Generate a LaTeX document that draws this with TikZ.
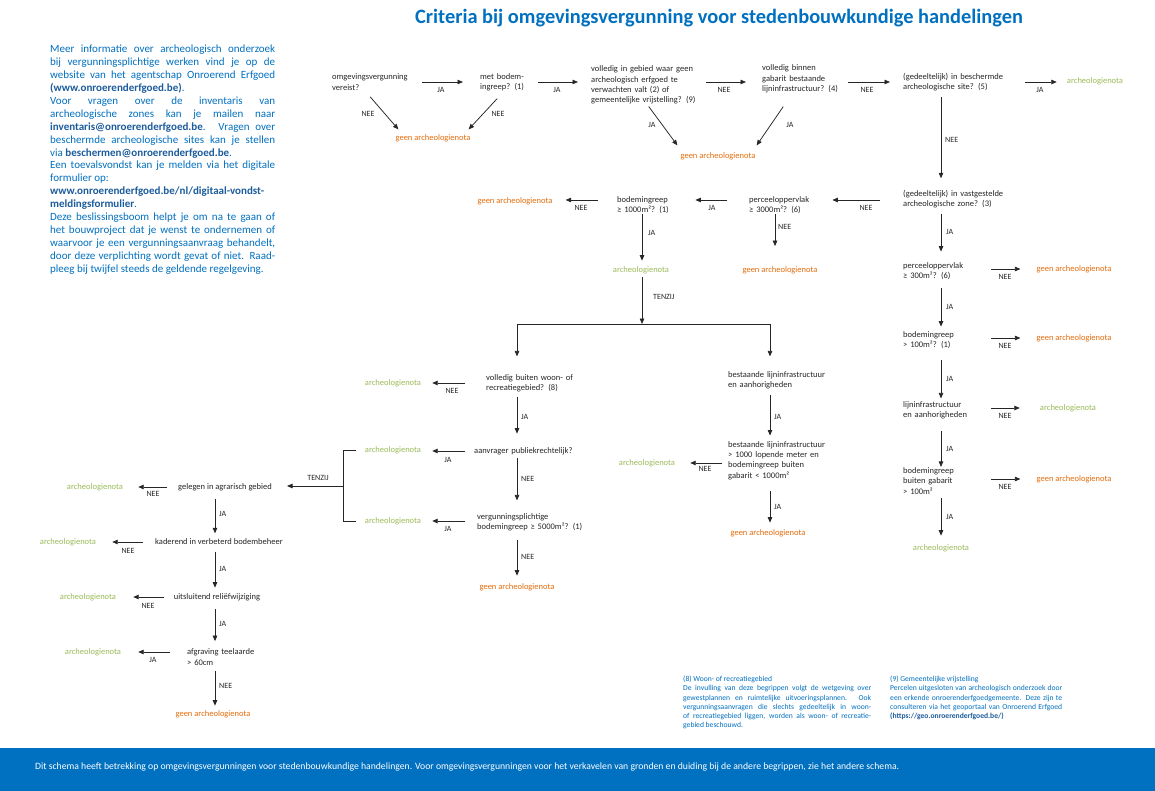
\documentclass[tikz,border=0pt]{standalone}
\usepackage{fontspec}
\setmainfont{Carlito}
\usetikzlibrary{arrows.meta}
\definecolor{oeblue}{RGB}{0,112,192}
\definecolor{oedark}{RGB}{28,92,156}
\definecolor{oegreen}{RGB}{155,187,89}
\definecolor{oeorange}{RGB}{228,108,10}
\definecolor{ink}{RGB}{38,38,38}
\tikzset{
  nf/.style={font=\fontsize{8.5}{10.4}\selectfont},
  q/.style={nf, anchor=west, align=left, text width=#1, inner sep=0pt, text=ink},
  qc/.style={nf, anchor=center, inner sep=0pt, text=ink},
  yes/.style={nf, inner sep=0pt, text=oegreen},
  no/.style={nf, inner sep=0pt, text=oeorange},
  lab/.style={font=\fontsize{8}{9.6}\selectfont, inner sep=0pt, text=ink},
  labw/.style={lab, anchor=west},
  arr/.style={draw=ink, line width=0.75pt, -{Triangle[length=5.5pt,width=4.5pt]}},
  conn/.style={draw=ink, line width=0.75pt},
}
\begin{document}
\begin{tikzpicture}[x=1pt,y=-1pt]
\useasboundingbox (0,0) rectangle (1155,791);
\fill[white] (0,0) rectangle (1155,791);

% title
\node[font=\fontsize{20.4}{24}\selectfont\bfseries, text=oeblue, inner sep=0pt] (title) at (719,18) {Criteria bij omgevingsvergunning voor stedenbouwkundige handelingen};

% info block
\node[anchor=north west, inner sep=0pt, text width=225pt, align=justify, text=oeblue, font=\fontsize{11}{12.9}\selectfont] (info) at (50,45) {\hyphenpenalty=10000 \tolerance=10000 \parindent=0pt
Meer informatie over archeologisch onderzoek\linebreak
bij vergunningsplichtige werken vind je op de\linebreak
website van het agentschap Onroerend Erfgoed\linebreak
{\color{oedark}\bfseries (www.onroerenderfgoed.be)}.\par
Voor vragen over de inventaris van\linebreak
archeologische zones kan je mailen naar\linebreak
{\color{oedark}\bfseries inventaris@onroerenderfgoed.be}. Vragen over\linebreak
beschermde archeologische sites kan je stellen\linebreak
via {\color{oedark}\bfseries beschermen@onroerenderfgoed.be}.\par
Een toevalsvondst kan je melden via het digitale\linebreak
formulier op:\par
{\color{oedark}\bfseries www.onroerenderfgoed.be/nl/digitaal-vondst-\linebreak
meldingsformulier}.\par
Deze beslissingsboom helpt je om na te gaan of\linebreak
het bouwproject dat je wenst te ondernemen of\linebreak
waarvoor je een vergunningsaanvraag behandelt,\linebreak
door deze verplichting wordt gevat of niet. Raad-\linebreak
pleeg bij twijfel steeds de geldende regelgeving.};

% footnotes
\node[anchor=north west, inner sep=0pt, text width=188pt, align=justify, text=oeblue, font=\fontsize{7.6}{9.2}\selectfont] (fn8) at (683,676) {\hyphenpenalty=10000 \tolerance=10000 \parindent=0pt
(8) Woon- of recreatiegebied\par
De invulling van deze begrippen volgt de wetgeving over\linebreak
gewestplannen en ruimtelijke uitvoeringsplannen. Ook\linebreak
vergunningsaanvragen die slechts gedeeltelijk in woon-\linebreak
of recreatiegebied liggen, worden als woon- of recreatie-\linebreak
gebied beschouwd.};
\node[anchor=north west, inner sep=0pt, text width=172pt, align=justify, text=oeblue, font=\fontsize{7.6}{9.2}\selectfont] (fn9) at (890,676) {\hyphenpenalty=10000 \tolerance=10000 \parindent=0pt
(9) Gemeentelijke vrijstelling\par
Percelen uitgesloten van archeologisch onderzoek door\linebreak
een erkende onroerenderfgoedgemeente. Deze zijn te\linebreak
consulteren via het geoportaal van Onroerend Erfgoed\linebreak
{\color{oedark}\bfseries (https://geo.onroerenderfgoed.be/)}};

% footer band
\fill[oeblue] (0,748) rectangle (1155,791);
\node[anchor=west, inner sep=0pt, text=white, font=\fontsize{9.7}{11.6}\selectfont] (footer) at (35,767) {Dit schema heeft betrekking op omgevingsvergunningen voor stedenbouwkundige handelingen. Voor omgevingsvergunningen voor het verkavelen van gronden en duiding bij de andere begrippen, zie het andere schema.};

% helper coordinates
\coordinate (colR) at (941,0);
\coordinate (colM) at (642,0);
\coordinate (colP) at (775,0);
\coordinate (colB) at (517,0);
\coordinate (colMR) at (770,0);
\coordinate (colL) at (215,0);
\coordinate (rowA) at (0,82);
\coordinate (rowB) at (0,200);
\coordinate (splitM) at (642,324);
\coordinate (splitL) at (517,324);
\coordinate (splitR) at (770,324);
\coordinate (brX) at (343,0);
\coordinate (brMid) at (343,486);

% top row
\node[q=90pt] (q1) at (332,82) {omgevingsvergunning\\vereist?};
\node[q=58pt] (q2) at (480,82) {met bodem-\\ingreep? (1)};
\node[q=115pt] (q3) at (591,85) {volledig in gebied waar geen\\archeologisch erfgoed te\\verwachten valt (2) of\\gemeentelijke vrijstelling? (9)};
\node[q=86pt] (q4) at (762,79) {volledig binnen\\gabarit bestaande\\lijninfrastructuur? (4)};
\node[q=122pt] (q5) at (903,82) {(gedeeltelijk) in beschermde\\archeologische site? (5)};
\node[yes] (o1) at (1095,81) {archeologienota};
\node[no] (g1) at (433,138) {geen archeologienota};
\node[no] (g2) at (718,156) {geen archeologienota};

% second row
\node[q=110pt] (q6) at (903,199) {(gedeeltelijk) in vastgestelde\\archeologische zone? (3)};
\node[q=83pt] (q7) at (749,205) {perceeloppervlak\\≥ 3000m²? (6)};
\node[q=78pt] (q12) at (617,205) {bodemingreep\\≥ 1000m²? (1)};
\node[no] (g3) at (515,201) {geen archeologienota};
\node[yes] (o2) at (641,270) {archeologienota};
\node[no] (g4) at (780,270) {geen archeologienota};

% right column
\node[q=87pt] (q8) at (903,271) {perceeloppervlak\\≥ 300m²? (6)};
\node[q=87pt] (q9) at (903,340) {bodemingreep\\> 100m²? (1)};
\node[q=87pt] (q10) at (903,410.5) {lijninfrastructuur\\en aanhorigheden};
\node[q=87pt] (q11) at (903,481) {bodemingreep\\buiten gabarit\\> 100m²};
\node[yes] (o11) at (941,548.5) {archeologienota};
\node[no] (g8) at (1074,269) {geen archeologienota};
\node[no] (g9) at (1074,338) {geen archeologienota};
\node[yes] (o10) at (1068,408) {archeologienota};
\node[no] (g11) at (1074,479) {geen archeologienota};

% middle branch
\node[q=95pt] (q13) at (486,383) {volledig buiten woon- of\\recreatiegebied? (8)};
\node[q=110pt] (q14) at (474,451) {aanvrager publiekrechtelijk?};
\node[q=110pt] (q15) at (477,522.5) {vergunningsplichtige\\bodemingreep ≥ 5000m²? (1)};
\node[no] (g5) at (517,587) {geen archeologienota};
\node[yes] (o3) at (393,383) {archeologienota};
\node[yes] (o4) at (393,450) {archeologienota};
\node[yes] (o5) at (393,521) {archeologienota};

% middle-right branch
\node[q=105pt] (q16) at (728,380) {bestaande lijninfrastructuur\\en aanhorigheden};
\node[q=105pt] (q21) at (728,460.5) {bestaande lijninfrastructuur\\> 1000 lopende meter en\\bodemingreep buiten\\gabarit < 1000m²};
\node[yes] (omr) at (647,463) {archeologienota};
\node[no] (g7) at (768,533) {geen archeologienota};

% lower-left branch
\node[qc] (q17) at (225,487) {gelegen in agrarisch gebied};
\node[qc] (q18) at (219,542) {kaderend in verbeterd bodembeheer};
\node[qc] (q19) at (217,597) {uitsluitend reliëfwijziging};
\node[q=75pt] (q20) at (187,657) {afgraving teelaarde\\> 60cm};
\node[no] (g6) at (213,714) {geen archeologienota};
\node[yes] (o6) at (95,487) {archeologienota};
\node[yes] (o7) at (68,542) {archeologienota};
\node[yes] (o8) at (88,597) {archeologienota};
\node[yes] (o9) at (93,652) {archeologienota};

% ---------- connectors ----------
% top row
\draw[arr, shorten >=17pt] (q1.east) -- (q1.east -| q2.west);
\draw[arr, shorten >=13pt] (q2.east) -- (q2.east -| q3.west);
\draw[arr, shorten >=16pt] (rowA -| q3.east) -- (rowA -| q4.west);
\draw[arr, shorten >=13pt] (rowA -| q4.east) -- (rowA -| q5.west);
\draw[arr, shorten >=10pt] (rowA -| q5.east) -- (rowA -| o1.west);
% diagonals
\draw[arr] ([xshift=-7pt,yshift=-6.5pt]q1.south) -- ([xshift=3pt,yshift=4.7pt]g1.north west);
\draw[arr] ([xshift=-12pt,yshift=-7.5pt]q2.south) -- ([xshift=-2pt,yshift=4.7pt]g1.north east);
\draw[arr] ([yshift=-2pt]q3.south) -- ([xshift=-3pt,yshift=6.7pt]g2.north west);
\draw[arr] ([xshift=-22pt,yshift=-13.4pt]q4.south) -- ([xshift=1pt,yshift=6.7pt]g2.north east);
% down from q5
\draw[arr, shorten <=5.5pt, shorten >=11.5pt] (q5.south -| colR) -- (q6.north -| colR);
% row B
\draw[arr, shorten <=23pt] (rowB -| q6.west) -- (rowB -| q7.east);
\draw[arr, shorten <=22pt] (rowB -| q7.west) -- (rowB -| q12.east);
\draw[arr, shorten <=19pt, shorten >=13pt] (rowB -| q12.west) -- (rowB -| g3.east);
\draw[arr, shorten >=5.5pt] (q12.south -| colM) -- (o2.north -| colM);
\draw[arr, shorten <=3.5pt] (o2.south -| colM) -- (splitM);
\draw[arr, shorten >=20pt] (q7.south -| colP) -- (g4.north -| colP);
% split
\draw[conn] (splitL) -- (splitR);
\draw[arr, shorten >=17.5pt] (splitL) -- (splitL |- q13.north);
\draw[arr, shorten >=14.5pt] (splitR) -- (splitR |- q16.north);
% middle branch
\draw[arr, shorten <=21pt, shorten >=11pt] (q13.west) -- (q13.west -| o3.east);
\draw[arr, shorten <=4.5pt, shorten >=13.5pt] (q13.south -| colB) -- (q14.north -| colB);
\draw[arr, shorten <=9pt, shorten >=11pt] (q14.west) -- (q14.west -| o4.east);
\draw[arr, shorten <=3pt, shorten >=13pt] (q14.south -| colB) -- (q15.north -| colB);
\draw[arr, shorten <=12pt, shorten >=11pt] (o5.east -| q15.west) -- (o5.east);
\draw[arr, shorten <=8pt, shorten >=7.5pt] (q15.south -| colB) -- (g5.north -| colB);
% bracket
\draw[conn] ([xshift=-9pt]o4.west) -- (o4.west -| brX) -- (o5.west -| brX) -- ([xshift=-9pt]o5.west);
\draw[arr, shorten >=15pt] (brMid) -- (brMid -| q17.east);
% lower-left branch
\draw[arr, shorten <=11pt, shorten >=15pt] (q17.west) -- (q17.west -| o6.east);
\draw[arr, shorten <=8.5pt, shorten >=5.5pt] (q17.south -| colL) -- (q18.north -| colL);
\draw[arr, shorten <=12pt, shorten >=16pt] (q18.west) -- (q18.west -| o7.east);
\draw[arr, shorten <=6.5pt, shorten >=5.5pt] (q18.south -| colL) -- (q19.north -| colL);
\draw[arr, shorten <=10pt, shorten >=17pt] (q19.west) -- (q19.west -| o8.east);
\draw[arr, shorten <=8.5pt, shorten >=7.5pt] (q19.south -| colL) -- (q20.north -| colL);
\draw[arr, shorten <=17pt, shorten >=17pt] (o9.east -| q20.west) -- (o9.east);
\draw[arr, shorten <=5.5pt, shorten >=4.5pt] (q20.south -| colL) -- (g6.north -| colL);
% middle-right branch
\draw[arr, shorten <=5.5pt, shorten >=5.5pt] (q16.south -| colMR) -- (q21.north -| colMR);
\draw[arr, shorten <=6pt, shorten >=15pt] (omr.east -| q21.west) -- (omr.east);
\draw[arr, shorten <=11.5pt, shorten >=6.5pt] (q21.south -| colMR) -- (g7.north -| colMR);
% right column
\draw[arr, shorten <=5.5pt, shorten >=10.5pt] (q6.south -| colR) -- (q8.north -| colR);
\draw[arr, shorten <=1pt, shorten >=16pt] (g8.west -| q8.east) -- (g8.west);
\draw[arr, shorten <=8.5pt, shorten >=4.5pt] (q8.south -| colR) -- (q9.north -| colR);
\draw[arr, shorten <=1pt, shorten >=16pt] (g9.west -| q9.east) -- (g9.west);
\draw[arr, shorten <=11.5pt, shorten >=3pt] (q9.south -| colR) -- (q10.north -| colR);
\draw[arr, shorten <=1pt, shorten >=20pt] (o10.west -| q10.east) -- (o10.west);
\draw[arr, shorten <=11pt, shorten >=0.5pt] (q10.south -| colR) -- (q11.north -| colR);
\draw[arr, shorten <=1pt, shorten >=16pt] (g11.west -| q11.east) -- (g11.west);
\draw[arr, shorten <=3.5pt, shorten >=9pt] (q11.south -| colR) -- (o11.north -| colR);

% ---------- labels ----------
\node[lab] (l1) at (441,90) {JA};
\node[lab] (l2) at (557,90) {JA};
\node[lab] (l3) at (724,90) {NEE};
\node[lab] (l4) at (867,90) {NEE};
\node[lab] (l5) at (1040,90) {JA};
\node[lab] (l6) at (368,114) {NEE};
\node[lab] (l7) at (498,114) {NEE};
\node[lab] (l8) at (652,125) {JA};
\node[lab] (l9) at (790,125) {JA};
\node[labw] (l10) at (945,140) {NEE};
\node[lab] (l11) at (866,208) {NEE};
\node[lab] (l12) at (712,208) {JA};
\node[lab] (l13) at (581,208) {NEE};
\node[labw] (l14) at (648,233) {JA};
\node[labw] (l15) at (653,297) {TENZIJ};
\node[labw] (l16) at (778,227) {NEE};
\node[lab] (l17) at (452,391) {NEE};
\node[labw] (l18) at (521,417) {JA};
\node[lab] (l19) at (448,460) {JA};
\node[labw] (l20) at (521,479) {NEE};
\node[lab] (l21) at (448,529) {JA};
\node[labw] (l22) at (521,557) {NEE};
\node[lab] (l23) at (318,478) {TENZIJ};
\node[lab] (l24) at (153,494) {NEE};
\node[labw] (l25) at (219,514) {JA};
\node[lab] (l26) at (128,551) {NEE};
\node[labw] (l27) at (219,569) {JA};
\node[lab] (l28) at (148,606) {NEE};
\node[labw] (l29) at (219,624) {JA};
\node[lab] (l30) at (153,660) {JA};
\node[labw] (l31) at (219,686) {NEE};
\node[labw] (l32) at (774,417) {JA};
\node[lab] (l33) at (705,469) {NEE};
\node[labw] (l34) at (774,507) {JA};
\node[labw] (l35) at (946,232) {JA};
\node[lab] (l36) at (1005,277) {NEE};
\node[labw] (l37) at (946,307) {JA};
\node[lab] (l38) at (1005,346) {NEE};
\node[labw] (l39) at (946,379) {JA};
\node[lab] (l40) at (1005,416) {NEE};
\node[labw] (l41) at (946,449) {JA};
\node[lab] (l42) at (1005,487) {NEE};
\node[labw] (l43) at (946,517) {JA};
\end{tikzpicture}
\end{document}
